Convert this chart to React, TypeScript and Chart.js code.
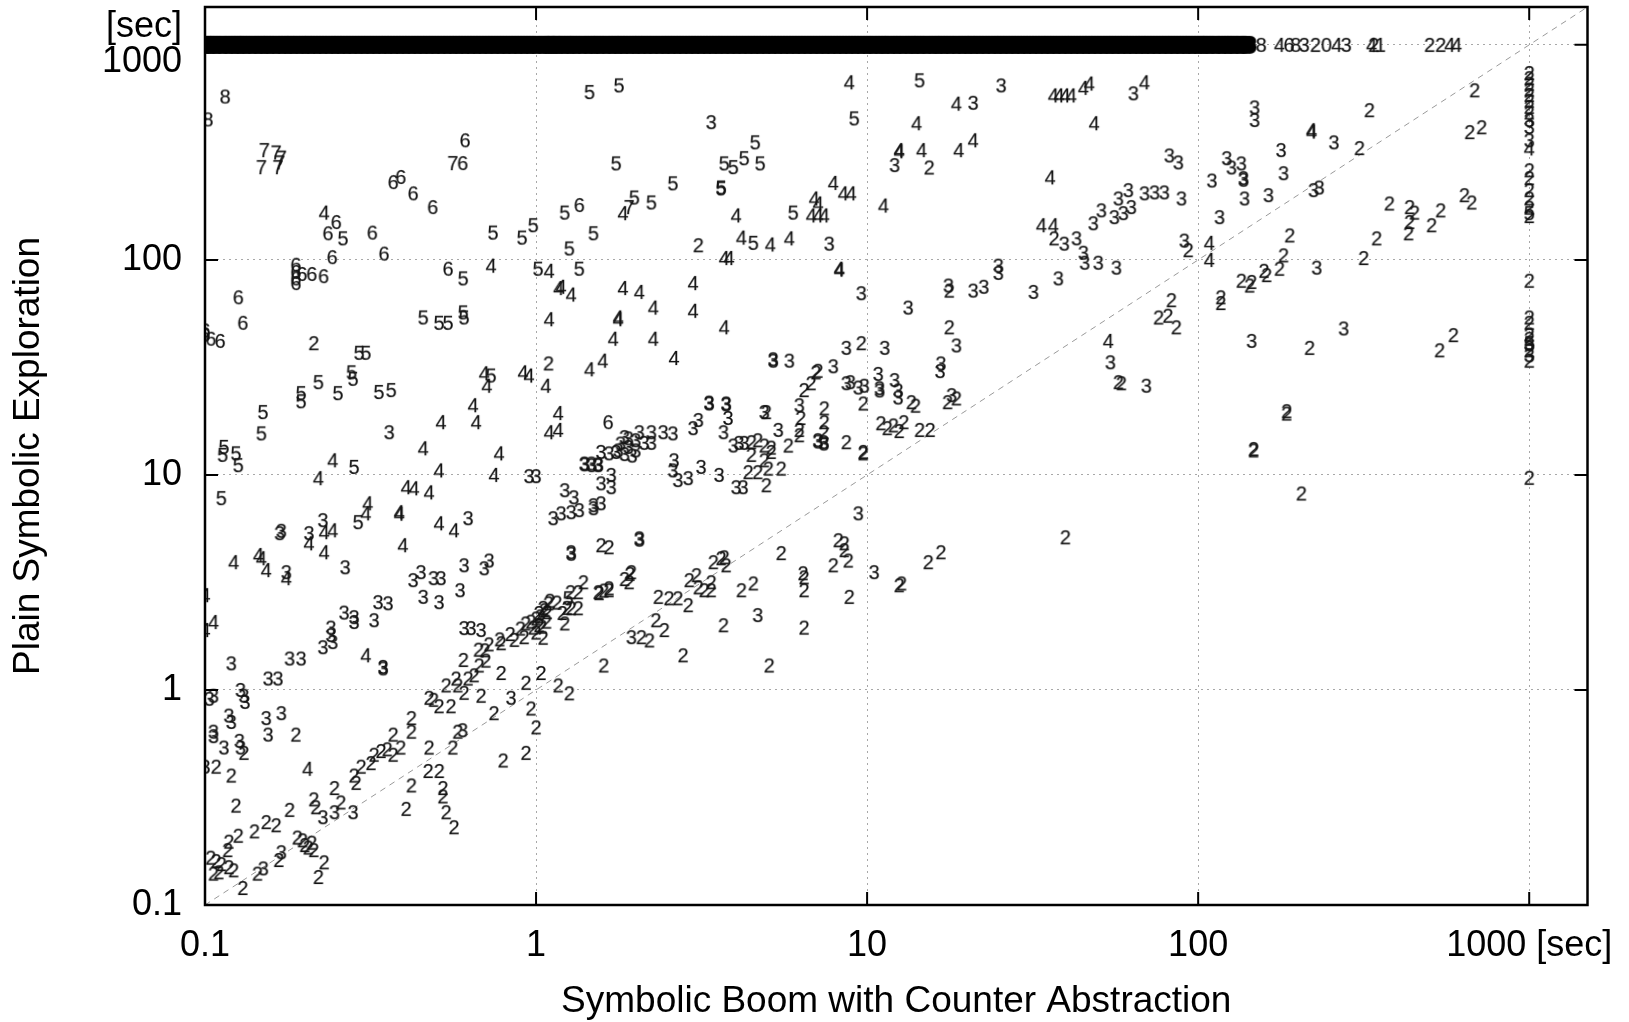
import React, { useEffect, useRef } from "react";
import { Chart, registerables } from "chart.js";

Chart.register(...registerables);

const FONT = "'Liberation Sans', Arial, Helvetica, sans-serif";

const xTitle = "Symbolic Boom with Counter Abstraction";
const yTitle = "Plain Symbolic Exploration";
const xTickValues = [0.1, 1, 10, 100, 1000];
const xTickLabels = ["0.1", "1", "10", "100", "1000 [sec]"];
const yTickValues = [0.1, 1, 10, 100, 1000];
const yTickLabels: (string | string[])[] = ["0.1", "1", "10", "100", ["[sec]", "1000"]];
const axisMin = 0.1;
const axisMax = 1500;
const diagonal: [number, number][] = [[0.1, 0.1], [1500, 1500]];

type P = [number, number];

const pts8: P[] = [[0.115, 575], [0.102, 450], [155, 1000], [197, 1000]];

const pts7: P[] = [
  [0.151, 324], [0.164, 316], [0.17, 299], [0.148, 270], [0.166, 270], [0.168, 284], [0.56, 282], [1.91, 176],
];

const pts6: P[] = [
  [0.61, 360], [0.6, 282], [0.37, 230], [0.39, 243], [0.425, 204], [0.487, 176], [0.249, 150], [0.235, 133],
  [0.32, 134], [0.242, 103], [0.347, 107], [0.188, 95], [0.188, 88], [0.188, 82], [0.188, 78], [0.196, 86],
  [0.21, 86], [0.228, 84], [0.126, 67], [0.13, 51], [0.1, 47], [0.1, 45], [0.104, 43], [0.111, 42],
  [0.542, 91], [1.35, 180], [1.65, 17.6], [188, 1000],
];

const pts5: P[] = [
  [0.261, 126], [0.292, 37], [0.306, 37], [0.22, 27], [0.252, 24], [0.277, 30], [0.28, 28], [0.195, 24],
  [0.195, 22], [0.335, 24.3], [0.365, 24.8], [0.456, 54], [0.509, 51], [0.542, 51], [0.602, 57], [0.606, 54],
  [0.602, 82], [0.741, 134], [0.907, 127], [0.98, 145], [1.014, 91], [0.731, 29], [1.45, 603], [1.78, 648],
  [4.59, 352], [3.7, 281], [3.94, 270], [4.25, 297], [4.75, 281], [1.745, 281], [2.59, 227], [3.62, 217],
  [3.62, 215], [1.98, 195], [2.23, 185], [1.22, 166], [1.49, 133], [1.26, 113], [1.35, 91], [4.53, 120],
  [5.98, 166], [14.4, 684], [9.14, 455], [0.1496, 19.6], [0.148, 15.6], [0.114, 13.5], [0.124, 12.6],
  [0.113, 12.4], [0.126, 11.1], [0.112, 7.8], [0.282, 10.9], [0.29, 6.03], [1.25, 2.67], [1000, 165], [1000, 41],
];

const pts4: P[] = [
  [0.229, 166], [0.731, 94], [1.095, 89], [1.17, 74], [1.095, 53], [1.07, 26], [0.913, 30], [0.952, 29],
  [0.697, 29.7], [0.71, 26], [1.83, 165], [4.02, 161], [4.17, 127], [5.1, 118], [5.82, 126], [6.92, 193],
  [7.11, 183], [6.78, 161], [7.11, 161], [7.42, 161], [7.9, 228], [8.47, 204], [8.95, 204], [8.83, 670],
  [8.24, 91], [8.24, 90], [11.2, 179], [12.5, 324], [12.5, 320], [2.98, 78], [2.98, 58], [3.7, 48.6],
  [1.83, 74], [2.05, 71], [2.26, 60], [1.77, 54], [1.77, 53], [1.71, 43], [2.26, 43], [1.45, 31], [1.59, 34],
  [2.61, 35], [3.7, 102], [3.83, 102], [1.19, 75], [1.276, 69], [18.6, 533], [14.1, 432], [14.6, 324],
  [18.9, 324], [20.9, 360], [36.5, 582], [38, 582], [39.6, 582], [41.4, 582], [45, 631], [46.9, 661],
  [68.8, 670], [48.5, 432], [35.7, 242], [33.6, 145], [36.5, 145], [108, 120], [108, 100], [53.5, 42],
  [220, 401], [220, 395], [0.22, 9.66], [0.243, 11.7], [0.456, 13.3], [0.516, 17.6], [0.645, 21.1],
  [0.659, 17.6], [0.773, 12.6], [0.509, 10.5], [0.746, 10], [1.095, 15.8], [1.166, 16.2], [1.166, 19.4],
  [0.405, 8.77], [0.428, 8.67], [0.475, 8.3], [0.31, 7.38], [0.306, 6.63], [0.386, 6.71], [0.386, 6.6],
  [0.509, 5.96], [0.565, 5.53], [0.396, 4.71], [0.229, 5.42], [0.243, 5.53], [0.206, 4.81], [0.229, 4.37],
  [0.122, 3.93], [0.145, 4.24], [0.148, 4.1], [0.153, 3.61], [0.176, 3.31], [0.1, 2.76], [0.106, 2.07],
  [0.1, 1.9], [0.306, 1.45], [0.204, 0.43], [1000, 330], [176, 1000], [262, 1000], [334, 1000], [575, 1000],
  [603, 1000],
];

const pts3: P[] = [
  [3.38, 437], [7.68, 119], [9.6, 70], [12.1, 276], [13.3, 60], [5.2, 34], [5.2, 34.5], [5.82, 34], [8.65, 39],
  [11.3, 39], [7.9, 32], [25.4, 648], [20.9, 538], [63.7, 595], [39.4, 119], [42.9, 126], [45, 108],
  [45.4, 97], [49.9, 97], [56.6, 92], [48.2, 148], [51, 170], [55.8, 158], [59.4, 165], [62.8, 176],
  [57.4, 193], [61.5, 211], [68.8, 204], [73.8, 206], [79, 206], [89, 193], [81.8, 306], [87.1, 284],
  [110, 234], [122, 297], [126, 269], [135, 281], [137, 240], [137, 236], [138, 193], [116, 158], [90.8, 123],
  [145, 42], [54.3, 33.4], [69.7, 26], [24.9, 94], [24.9, 87], [20.9, 72], [22.5, 75], [17.6, 76], [31.8, 71],
  [37.8, 82], [18.6, 40], [16.7, 33], [18, 23.5], [148, 512], [148, 447], [257, 352], [178, 324], [181, 253],
  [163, 200], [223, 211], [232, 217], [228, 92], [275, 48], [0.36, 15.8], [0.952, 9.87], [1.0, 9.87],
  [0.623, 6.29], [0.227, 6.16], [0.206, 5.36], [0.168, 5.36], [0.17, 5.5], [0.176, 3.53], [0.265, 3.72],
  [0.425, 3.24], [0.449, 3.53], [0.49, 3.31], [0.516, 3.31], [0.456, 2.71], [0.509, 2.56], [0.606, 3.8],
  [0.697, 3.68], [0.721, 4.0], [0.589, 2.91], [0.333, 2.56], [0.357, 2.53], [0.263, 2.29], [0.282, 2.18],
  [0.282, 2.07], [0.324, 2.11], [0.24, 1.95], [0.24, 1.8], [0.227, 1.58], [0.243, 1.67], [0.18, 1.4],
  [0.195, 1.4], [0.12, 1.33], [0.345, 1.28], [0.345, 1.26], [0.606, 1.94], [0.636, 1.94], [0.682, 1.9],
  [1.4, 11.3], [1.4, 11.2], [1.47, 11.1], [1.47, 11.3], [1.54, 11.1], [1.54, 11.2], [1.57, 12.8], [1.66, 12.6],
  [1.745, 12.8], [1.77, 13], [1.8, 14], [1.85, 15], [1.9, 13.5], [1.95, 12.3], [2.0, 14.5], [1.85, 12.5],
  [2.0, 13], [1.9, 14.8], [2.05, 15.8], [2.23, 15.8], [2.42, 15.8], [2.59, 15.6], [2.12, 14.1], [2.23, 14.1],
  [2.98, 16.5], [3.09, 18], [3.33, 21.5], [3.33, 21.7], [3.75, 21.5], [3.75, 21.3], [3.8, 18.4], [3.68, 15.8],
  [4.89, 19.6], [6.24, 21.1], [7.1, 14.5], [7.1, 14.3], [7.4, 14.2], [7.4, 14.0], [12.4, 22.9], [3.94, 13.7],
  [4.1, 14.1], [4.25, 14.1], [5.39, 16.2], [4.02, 8.77], [4.22, 8.77], [2.61, 11.7], [2.59, 10.5],
  [2.68, 9.46], [2.88, 9.66], [3.15, 10.9], [3.57, 10], [1.686, 10], [1.57, 9.14], [1.686, 8.77], [1.22, 8.49],
  [1.3, 7.87], [1.126, 6.29], [1.19, 6.63], [1.276, 6.71], [1.35, 6.86], [1.49, 7.23], [1.57, 7.38], [1.49, 7.0],
  [1.276, 4.37], [1.276, 4.3], [2.05, 5.07], [2.05, 5.0], [9.4, 6.63], [10.5, 3.53], [4.67, 2.23], [1.94, 1.76],
  [8.65, 26.7], [9.4, 25.5], [9.8, 26], [10.9, 25.3], [10.9, 24.7], [12.1, 27.6], [12.4, 24.7], [8.9, 27],
  [10.8, 29.5], [16.6, 30.4], [0.155, 1.13], [0.166, 1.13], [0.128, 1.0], [0.131, 0.94], [0.106, 0.94],
  [0.118, 0.76], [0.12, 0.71], [0.153, 0.74], [0.17, 0.78], [0.155, 0.62], [0.106, 0.64], [0.106, 0.61],
  [0.114, 0.54], [0.127, 0.58], [0.128, 0.54], [0.1, 0.44], [0.17, 0.176], [0.227, 0.256], [0.246, 0.27],
  [0.28, 0.27], [0.6, 0.65], [0.84, 0.92], [0.103, 0.91], [0.132, 0.88], [0.15, 0.148], [1000, 447],
  [1000, 415], [1000, 360], [1000, 36], [1000, 40.5], [209, 1000], [280, 1000],
];

const pts2: P[] = [
  [0.213, 41], [1.09, 33], [3.09, 117], [9.6, 41], [15.4, 269], [36.7, 126], [93.3, 111], [135, 80], [143, 76],
  [117, 67], [117, 63], [83, 65], [75.9, 54], [81, 55], [85.9, 48.6], [57.4, 27], [58.6, 26.7], [17.7, 72],
  [17.7, 48.6], [684, 615], [329, 497], [307, 331], [661, 393], [718, 414], [378, 183], [435, 176], [450, 166],
  [435, 150], [432, 133], [507, 145], [540, 170], [637, 200], [670, 185], [346, 126], [316, 102], [189, 130],
  [181, 105], [176, 91], [158, 89], [161, 85], [145, 79], [217, 39], [536, 38], [590, 44.7],
  [1000, 740], [1000, 700], [1000, 660], [1000, 620], [1000, 585], [1000, 550], [1000, 515], [1000, 485],
  [1000, 261], [1000, 240], [1000, 211], [1000, 193], [1000, 175], [1000, 160], [1000, 80], [1000, 54],
  [1000, 51], [1000, 45], [1000, 43], [1000, 38], [1000, 34], [1000, 9.7],
  [185, 19.3], [185, 19.8], [147, 13], [147, 13.2], [205, 8.2], [39.7, 5.13], [15.3, 3.93], [16.7, 4.37],
  [12.7, 3.13], [17.5, 21.8], [18.6, 22.7], [14.4, 16.2], [15.5, 16.2],
  [4.96, 19.6], [6.3, 18.4], [6.24, 16.2], [6.24, 15.3], [7.42, 20.4], [7.42, 17.6], [7.4, 15.8], [8.65, 14.2],
  [9.73, 12.8], [9.73, 12.6], [9.73, 21.5], [11, 17.4], [11.5, 16.5], [12, 17], [12.5, 16], [12.9, 17.6],
  [4.47, 14.2], [4.67, 14.5], [4.89, 13.7], [5.13, 13.4], [4.47, 12.4], [4.89, 11.7], [5.13, 12.8],
  [5.78, 13.7], [4.37, 10.3], [4.67, 10.3], [5.03, 10.7], [5.5, 10.7], [4.96, 8.96], [1.57, 4.71], [1.66, 4.61],
  [1.39, 3.17], [1.55, 2.82], [1.66, 2.91], [1.94, 3.53], [1.91, 3.17], [1.276, 2.4], [1.34, 2.4], [1.22, 2.04],
  [2.9, 3.24], [3.05, 3.42], [3.38, 3.17], [3.38, 2.91], [3.62, 4.1], [3.75, 3.8], [3.43, 3.93], [3.7, 4.14],
  [3.09, 3.0], [3.22, 2.91], [4.17, 2.91], [4.53, 3.13], [5.5, 4.33], [6.4, 3.49], [6.45, 3.34], [6.45, 2.91],
  [7.9, 3.8], [8.18, 4.97], [8.53, 4.81], [8.53, 4.47], [8.77, 4.0], [12.5, 3.07], [8.83, 2.71], [3.68, 2.0],
  [6.45, 1.95], [2.34, 2.71], [2.52, 2.67], [2.68, 2.67], [2.88, 2.48], [2.3, 2.11], [2.44, 1.9], [2.08, 1.76],
  [2.2, 1.7], [2.78, 1.45], [1.6, 1.3], [5.06, 1.3], [7.0, 30], [6.77, 26.7], [6.45, 24.8], [13.6, 21.8],
  [14, 21], [7.1, 30.5],
  [0.188, 0.62], [0.131, 0.51], [0.108, 0.44], [0.12, 0.4], [0.124, 0.29], [0.141, 0.22], [0.153, 0.243],
  [0.164, 0.235], [0.18, 0.277], [0.126, 0.21], [0.118, 0.197], [0.117, 0.18], [0.104, 0.166], [0.108, 0.16],
  [0.112, 0.155], [0.118, 0.15], [0.122, 0.145], [0.106, 0.14], [0.11, 0.142], [0.13, 0.12], [0.144, 0.14],
  [0.167, 0.162], [0.19, 0.206], [0.197, 0.2], [0.2, 0.19], [0.205, 0.185], [0.21, 0.195], [0.213, 0.18],
  [0.229, 0.158], [0.22, 0.135], [0.213, 0.31], [0.216, 0.285], [0.257, 0.3], [0.246, 0.35], [0.282, 0.4],
  [0.286, 0.37], [0.296, 0.44], [0.317, 0.457], [0.324, 0.5], [0.34, 0.52], [0.355, 0.53], [0.37, 0.5],
  [0.39, 0.54], [0.37, 0.62], [0.42, 0.64], [0.42, 0.74], [0.475, 0.92], [0.49, 0.9], [0.509, 0.84],
  [0.553, 0.84], [0.535, 1.05], [0.58, 1.05], [0.623, 1.13], [0.673, 1.3], [0.65, 1.17], [0.705, 1.37],
  [0.573, 1.13], [0.606, 0.97], [0.682, 0.94], [0.784, 1.2], [0.475, 0.54], [0.56, 0.54], [0.472, 0.42],
  [0.51, 0.42], [0.42, 0.36], [0.405, 0.28], [0.523, 0.35], [0.523, 0.32], [0.535, 0.27], [0.565, 0.23],
  [0.58, 0.64], [0.746, 0.78], [0.965, 0.82], [1.0, 0.67], [0.795, 0.47], [0.932, 0.51], [0.932, 1.08],
  [1.035, 1.2], [1.166, 1.05], [1.26, 0.965],
  [0.603, 1.38], [0.67, 1.54], [0.72, 1.63], [0.776, 1.72], [0.835, 1.82], [0.897, 1.93], [0.93, 2.04],
  [0.964, 2.08], [1.0, 2.15], [1.02, 2.28], [1.04, 1.97], [1.05, 2.41], [1.075, 2.08], [1.1, 2.6], [1.155, 2.55],
  [1.2, 2.28], [1.24, 2.41], [1.27, 2.85], [1.34, 2.85], [1.54, 2.85], [1.6, 2.9], [1.66, 2.97], [1.85, 3.28],
  [1.92, 3.47], [1.0, 1.85], [1.05, 1.75], [0.98, 1.95], [1.02, 2.0], [1.03, 2.2], [1.08, 2.3], [1.09, 2.53],
  [1.06, 2.35], [0.7, 1.53], [0.784, 1.65], [0.86, 1.71], [0.92, 1.76],
  [226, 1000], [339, 1000], [500, 1000], [540, 1000],
];

const pts1: P[] = [[355, 1000]];
const pts0: P[] = [[244, 1000]];

// Timed-out runs (plain exploration hit the 1000 s limit): dense row of labels.
const timeoutY = 1000;
const timeoutX: number[] = [
  0.1, 0.104, 0.108, 0.113, 0.118, 0.123, 0.128, 0.133, 0.139, 0.145, 0.151, 0.157, 0.164, 0.171, 0.178,
  0.185, 0.193, 0.201, 0.209, 0.218, 0.227, 0.237, 0.247, 0.257, 0.268, 0.279, 0.291, 0.303, 0.316, 0.329,
  0.343, 0.357, 0.372, 0.388, 0.404, 0.421, 0.439, 0.457, 0.476, 0.496, 0.517, 0.539, 0.562, 0.585, 0.61,
  0.636, 0.662, 0.69, 0.719, 0.749, 0.781, 0.813, 0.848, 0.883, 0.92, 0.959,
  1.0, 1.05, 1.09, 1.13, 1.17, 1.22, 1.27, 1.32, 1.38, 1.44, 1.5, 1.56, 1.63, 1.7, 1.77, 1.84, 1.92, 2.0,
  2.08, 2.17, 2.26, 2.36, 2.46, 2.56, 2.67, 2.78, 2.9, 3.02, 3.15, 3.28, 3.42, 3.56, 3.71, 3.87, 4.03, 4.2,
  4.38, 4.56, 4.75, 4.95, 5.16, 5.38, 5.61, 5.84, 6.09, 6.34, 6.61, 6.89, 7.18, 7.48, 7.79, 8.12, 8.46,
  8.82, 9.19, 9.58,
  10.0, 10.4, 10.9, 11.3, 11.8, 12.3, 12.8, 13.4, 13.9, 14.5, 15.1, 15.8, 16.4, 17.1, 17.8, 18.6, 19.4, 20.2,
  21.0, 21.9, 22.8, 23.8, 24.8, 25.8, 26.9, 28.0, 29.2, 30.4, 31.7, 33.0, 34.4, 35.8, 37.3, 38.9, 40.5, 42.2,
  44.0, 45.8, 47.7, 49.7, 51.8, 54.0, 56.2, 58.6, 61.0, 63.6, 66.3, 69.0, 71.9, 74.9, 78.1, 81.3, 84.7, 88.3,
  92.0, 95.8, 100, 104, 108, 113, 118, 123, 128, 134, 140,
];

const labelSeries: { label: string; points: P[] }[] = [
  { label: "2", points: pts2 },
  { label: "3", points: pts3 },
  { label: "4", points: pts4 },
  { label: "5", points: pts5 },
  { label: "6", points: pts6 },
  { label: "7", points: pts7 },
  { label: "8", points: pts8 },
  { label: "1", points: pts1 },
  { label: "0", points: pts0 },
];

function makeGlyph(text: string): HTMLCanvasElement {
  const c = document.createElement("canvas");
  c.width = 22;
  c.height = 26;
  const g = c.getContext("2d")!;
  g.font = `20px ${FONT}`;
  g.textAlign = "center";
  g.textBaseline = "alphabetic";
  g.fillStyle = "#141414";
  g.strokeStyle = "rgba(20,20,20,0.35)";
  g.lineWidth = 0.5;
  g.strokeText(text, 11, 20);
  g.fillText(text, 11, 20);
  return c;
}

// Glyph for the packed timeout row: overlapping bold digits that merge into a black strip.
function makeStripGlyph(text: string): HTMLCanvasElement {
  const c = document.createElement("canvas");
  c.width = 28;
  c.height = 26;
  const g = c.getContext("2d")!;
  g.font = `bold 20px ${FONT}`;
  g.textAlign = "center";
  g.textBaseline = "alphabetic";
  g.fillStyle = "#000";
  g.strokeStyle = "#000";
  g.lineWidth = 4;
  g.lineJoin = "round";
  [11, 14, 17].forEach((cx) => {
    g.strokeText(text, cx, 20);
    g.fillText(text, cx, 20);
  });
  return c;
}

const framePlugin = {
  id: "gnuframe",
  afterDraw(chart: any) {
    const { ctx, chartArea } = chart;
    const { left, right, top, bottom } = chartArea;
    const xs = chart.scales.x;
    const ys = chart.scales.y;
    ctx.save();
    ctx.strokeStyle = "#000";
    ctx.lineWidth = 2;
    const tl = 13;
    ctx.beginPath();
    xs.ticks.forEach((t: any) => {
      const px = xs.getPixelForValue(t.value);
      ctx.moveTo(px, bottom);
      ctx.lineTo(px, bottom - tl);
      ctx.moveTo(px, top);
      ctx.lineTo(px, top + tl);
    });
    ys.ticks.forEach((t: any) => {
      const py = ys.getPixelForValue(t.value);
      ctx.moveTo(left, py);
      ctx.lineTo(left + tl, py);
      ctx.moveTo(right, py);
      ctx.lineTo(right - tl, py);
    });
    ctx.stroke();
    ctx.lineWidth = 2.5;
    ctx.strokeRect(left, top, right - left, bottom - top);
    ctx.restore();
  },
};

export default function App() {
  const ref = useRef<HTMLCanvasElement | null>(null);

  useEffect(() => {
    if (!ref.current) return;
    const datasets: any[] = [
      {
        label: "diagonal",
        data: diagonal.map(([x, y]) => ({ x, y })),
        showLine: true,
        borderColor: "#9a9a9a",
        borderWidth: 1,
        borderDash: [6, 5],
        pointRadius: 0,
        order: 10,
        clip: 0,
      },
      {
        label: "timeout",
        data: timeoutX.map((x) => ({ x, y: timeoutY })),
        pointStyle: makeStripGlyph("8"),
        pointRadius: 6,
        order: 1,
        clip: 0,
      },
      ...labelSeries.map((s) => ({
        label: s.label,
        data: s.points.map(([x, y]) => ({ x, y })),
        pointStyle: makeGlyph(s.label),
        pointRadius: 6,
        order: 0,
        clip: 0,
      })),
    ];

    const chart = new Chart(ref.current, {
      type: "scatter",
      data: { datasets },
      options: {
        animation: false,
        responsive: false,
        events: [],
        layout: { padding: { left: 0, right: 41.5, top: 7, bottom: 0 } },
        plugins: { legend: { display: false }, tooltip: { enabled: false } },
        scales: {
          x: {
            type: "logarithmic",
            position: "bottom",
            min: axisMin,
            max: axisMax,
            afterBuildTicks: (s: any) => {
              s.ticks = xTickValues.map((v) => ({ value: v }));
            },
            afterFit: (s: any) => {
              s.height = 117;
              s.paddingLeft = 0;
              s.paddingRight = 0;
            },
            ticks: {
              callback: (_v: any, i: number) => xTickLabels[i],
              font: { family: FONT, size: 36 },
              color: "#000",
              padding: 19,
              maxRotation: 0,
              autoSkip: false,
            },
            grid: { color: "#a8a8a8", lineWidth: 1, drawTicks: false },
            border: { display: false, dash: [2, 4] },
            title: {
              display: true,
              text: xTitle,
              font: { family: FONT, size: 37 },
              color: "#000",
              padding: { top: 0, bottom: -2 },
            },
          },
          y: {
            type: "logarithmic",
            position: "left",
            min: axisMin,
            max: axisMax,
            afterBuildTicks: (s: any) => {
              s.ticks = yTickValues.map((v) => ({ value: v }));
            },
            afterFit: (s: any) => {
              s.width = 205;
              s.paddingTop = 0;
              s.paddingBottom = 0;
            },
            ticks: {
              callback: (_v: any, i: number) => yTickLabels[i],
              font: { family: FONT, size: 36, lineHeight: 0.97 },
              color: "#000",
              padding: 23,
              autoSkip: false,
            },
            grid: { color: "#a8a8a8", lineWidth: 1, drawTicks: false },
            border: { display: false, dash: [2, 4] },
            title: {
              display: true,
              text: yTitle,
              font: { family: FONT, size: 37 },
              color: "#000",
              padding: { top: 7, bottom: 0 },
            },
          },
        },
      } as any,
      plugins: [framePlugin],
    });
    return () => chart.destroy();
  }, []);

  return (
    <div style={{ position: "fixed", left: 0, top: 0, width: 1629, height: 1022, background: "#fff" }}>
      <canvas ref={ref} width={1629} height={1022} style={{ width: 1629, height: 1022, display: "block" }} />
    </div>
  );
}
